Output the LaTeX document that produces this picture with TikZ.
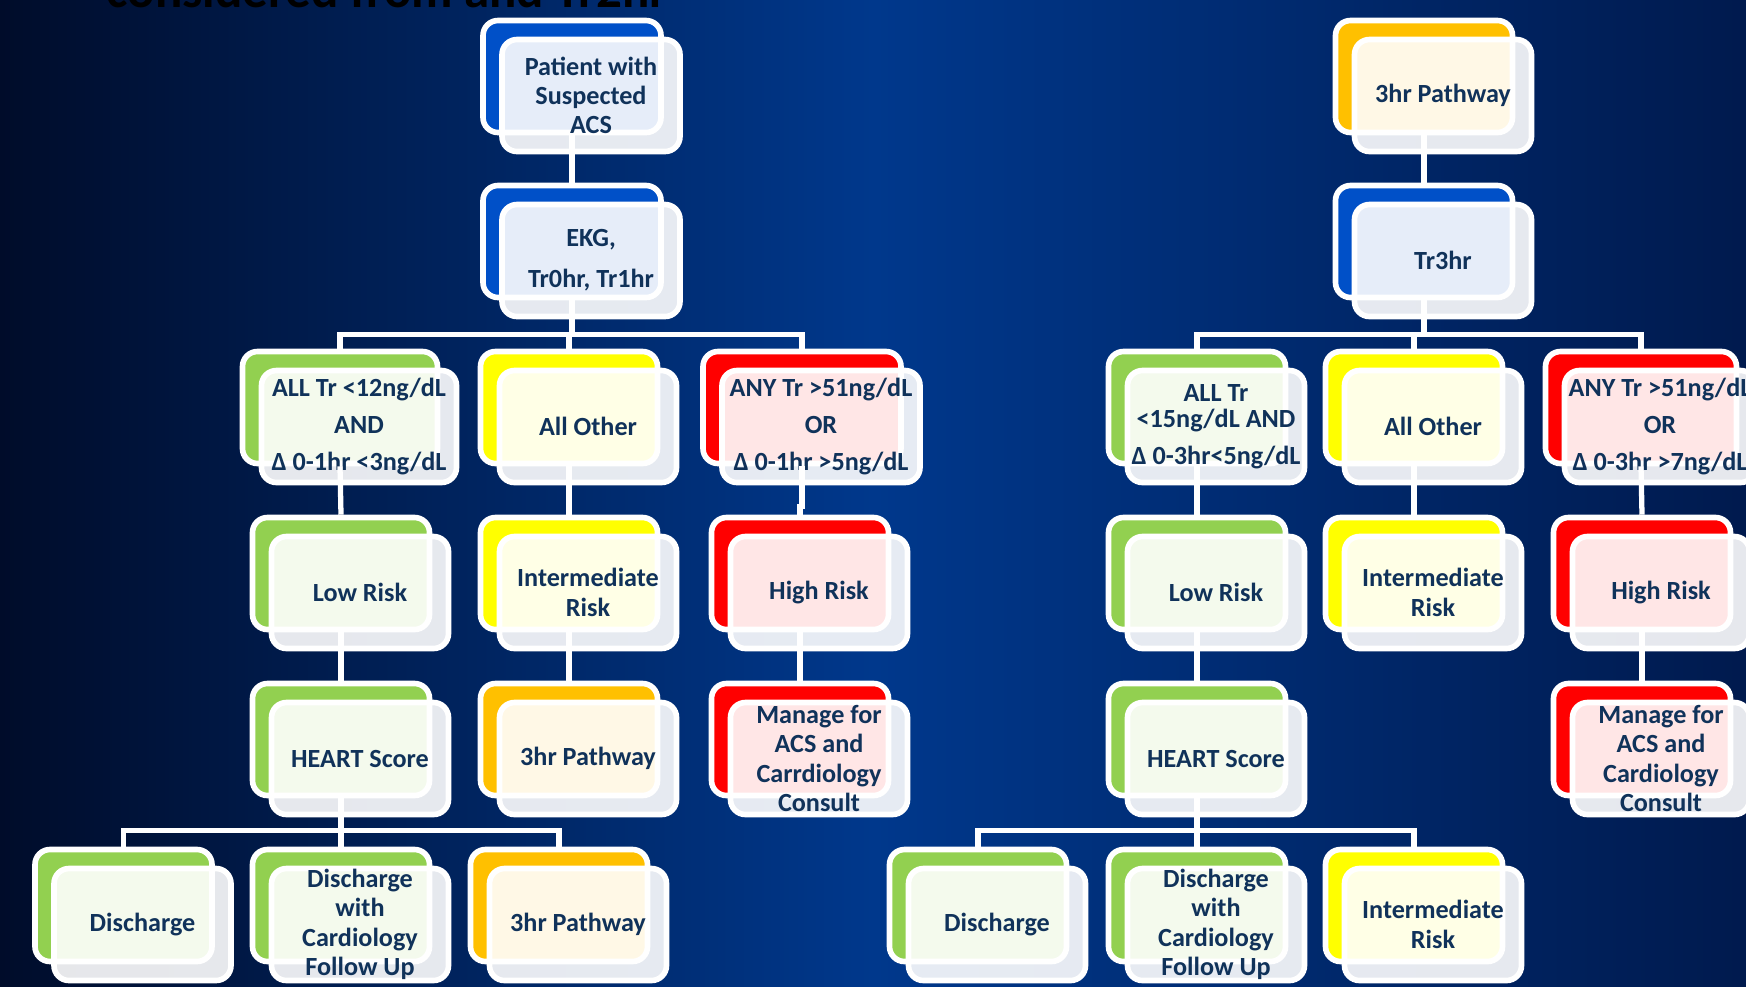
\documentclass[tikz,border=0pt]{standalone}
\usepackage{fontspec}
\setmainfont{Carlito}
\usetikzlibrary{shadows}
\definecolor{ink}{HTML}{10325A}
\definecolor{bgleft}{HTML}{000C2A}
\definecolor{bgmid}{HTML}{00388C}
\definecolor{bgright}{HTML}{001A4E}
\definecolor{blu}{HTML}{0050C8}
\definecolor{grn}{HTML}{92D050}
\definecolor{yel}{HTML}{FFFF00}
\definecolor{rd}{HTML}{FF0000}
\definecolor{gld}{HTML}{FFC000}
\begin{document}
\begin{tikzpicture}[
  box/.style={draw=white,line width=1.6pt,rounded corners=0.15cm,fill=white,fill opacity=0.9,text opacity=1,
    minimum width=1.77cm,minimum height=1.12cm,inner sep=0pt,align=center,text=ink,
    font=\bfseries\fontsize{7.45}{8.35}\selectfont,
    copy shadow={shadow xshift=-0.19cm,shadow yshift=0.19cm,fill=#1,draw=white,opacity=1}},
  bk/.style={shift={(-0.19,0.19)}},
  conn/.style={draw=white,line width=1.5pt},
  bus/.style={to path={-- ++(0,-#1) -| (\tikztotarget)}}]
\useasboundingbox (0,0) rectangle (17.46,-9.86);
\clip (0,0) rectangle (17.46,-9.86);
\shade[left color=bgleft,right color=bgright,middle color=bgmid] (0,0) rectangle (17.46,-9.86);
\node[anchor=base west,inner sep=0pt,text=black,font=\bfseries\fontsize{14.5}{16}\selectfont] (ttl) at (1.06,-0.07) {considered from and Tr2hr};

\node[box=blu,minimum width=1.78cm] (pat) at (5.91,-0.955) {Patient with\\Suspected\\ACS};
\node[box=blu,minimum width=1.78cm] (ekg) at (5.91,-2.605) {EKG,\\[3.3pt]Tr0hr, Tr1hr};
\node[box=grn,minimum width=1.95cm] (ok1) at (3.59,-4.265) {ALL Tr <12ng/dL\\[2.2pt]AND\\[2.2pt]Δ 0-1hr <3ng/dL};
\node[box=yel] (mid1) at (5.88,-4.265) {All Other};
\node[box=rd,minimum width=1.98cm] (hi1) at (8.21,-4.265) {ANY Tr >51ng/dL\\[2.2pt]OR\\[2.2pt]Δ 0-1hr >5ng/dL};
\node[box=grn] (low1) at (3.60,-5.925) {Low Risk};
\node[box=yel] (int1) at (5.88,-5.925) {Intermediate\\Risk};
\node[box=rd] (high1) at (8.19,-5.925) {High Risk};
\node[box=grn] (heart1) at (3.60,-7.585) {HEART Score};
\node[box=gld] (path1) at (5.88,-7.585) {3hr Pathway};
\node[box=rd,inner ysep=-0.5pt] (mng1) at (8.19,-7.585) {Manage for\\ACS and\\Carrdiology\\Consult};
\node[box=grn] (dis1) at (1.425,-9.245) {Discharge};
\node[box=grn,inner ysep=-0.5pt] (dcf1) at (3.60,-9.245) {Discharge\\with\\Cardiology\\Follow Up};
\node[box=gld] (p3h1) at (5.78,-9.245) {3hr Pathway};

\node[box=gld] (top3h) at (14.43,-0.955) {3hr Pathway};
\node[box=blu] (tr3) at (14.43,-2.605) {Tr3hr};
\node[box=grn] (ok2) at (12.16,-4.265) {ALL Tr\\[-0.8pt]<15ng/dL AND\\[2.1pt]Δ 0-3hr<5ng/dL};
\node[box=yel] (mid2) at (14.33,-4.265) {All Other};
\node[box=rd,minimum width=1.91cm] (hi2) at (16.60,-4.265) {ANY Tr >51ng/dL\\[2.2pt]OR\\[2.2pt]Δ 0-3hr >7ng/dL};
\node[box=grn] (low2) at (12.16,-5.925) {Low Risk};
\node[box=yel] (int2) at (14.33,-5.925) {Intermediate\\Risk};
\node[box=rd] (high2) at (16.61,-5.925) {High Risk};
\node[box=grn] (heart2) at (12.16,-7.585) {HEART Score};
\node[box=rd,inner ysep=-0.5pt] (mng2) at (16.61,-7.585) {Manage for\\ACS and\\Cardiology\\Consult};
\node[box=grn] (dis2) at (9.97,-9.245) {Discharge};
\node[box=grn,inner ysep=-0.5pt] (dcf2) at (12.16,-9.245) {Discharge\\with\\Cardiology\\Follow Up};
\node[box=yel] (int3) at (14.33,-9.245) {Intermediate\\Risk};

\draw[conn] ([bk]pat.south) -- ([bk]ekg.north);
\draw[conn] ([bk]ekg.south) to[bus=0.34] ([bk]ok1.north);
\draw[conn] ([bk]ekg.south) to[bus=0.34] ([bk]mid1.north);
\draw[conn] ([bk]ekg.south) to[bus=0.34] ([bk]hi1.north);
\draw[conn] ([bk]ok1.south) -- ([bk]low1.north);
\draw[conn] ([bk]mid1.south) -- ([bk]int1.north);
\draw[conn] ([bk]hi1.south) to[bus=0.40] ([bk]high1.north);
\draw[conn] ([bk]low1.south) -- ([bk]heart1.north);
\draw[conn] ([bk]int1.south) -- ([bk]path1.north);
\draw[conn] ([bk]high1.south) -- ([bk]mng1.north);
\draw[conn] ([bk]heart1.south) to[bus=0.32] ([bk]dis1.north);
\draw[conn] ([bk]heart1.south) to[bus=0.32] ([bk]dcf1.north);
\draw[conn] ([bk]heart1.south) to[bus=0.32] ([bk]p3h1.north);

\draw[conn] ([bk]top3h.south) -- ([bk]tr3.north);
\draw[conn] ([bk]tr3.south) to[bus=0.34] ([bk]ok2.north);
\draw[conn] ([bk]tr3.south) to[bus=0.34] ([bk]mid2.north);
\draw[conn] ([bk]tr3.south) to[bus=0.34] ([bk]hi2.north);
\draw[conn] ([bk]ok2.south) -- ([bk]low2.north);
\draw[conn] ([bk]mid2.south) -- ([bk]int2.north);
\draw[conn] ([bk]hi2.south) -- ([bk]high2.north);
\draw[conn] ([bk]low2.south) -- ([bk]heart2.north);
\draw[conn] ([bk]high2.south) -- ([bk]mng2.north);
\draw[conn] ([bk]heart2.south) to[bus=0.32] ([bk]dis2.north);
\draw[conn] ([bk]heart2.south) to[bus=0.32] ([bk]dcf2.north);
\draw[conn] ([bk]heart2.south) to[bus=0.32] ([bk]int3.north);
\end{tikzpicture}
\end{document}
